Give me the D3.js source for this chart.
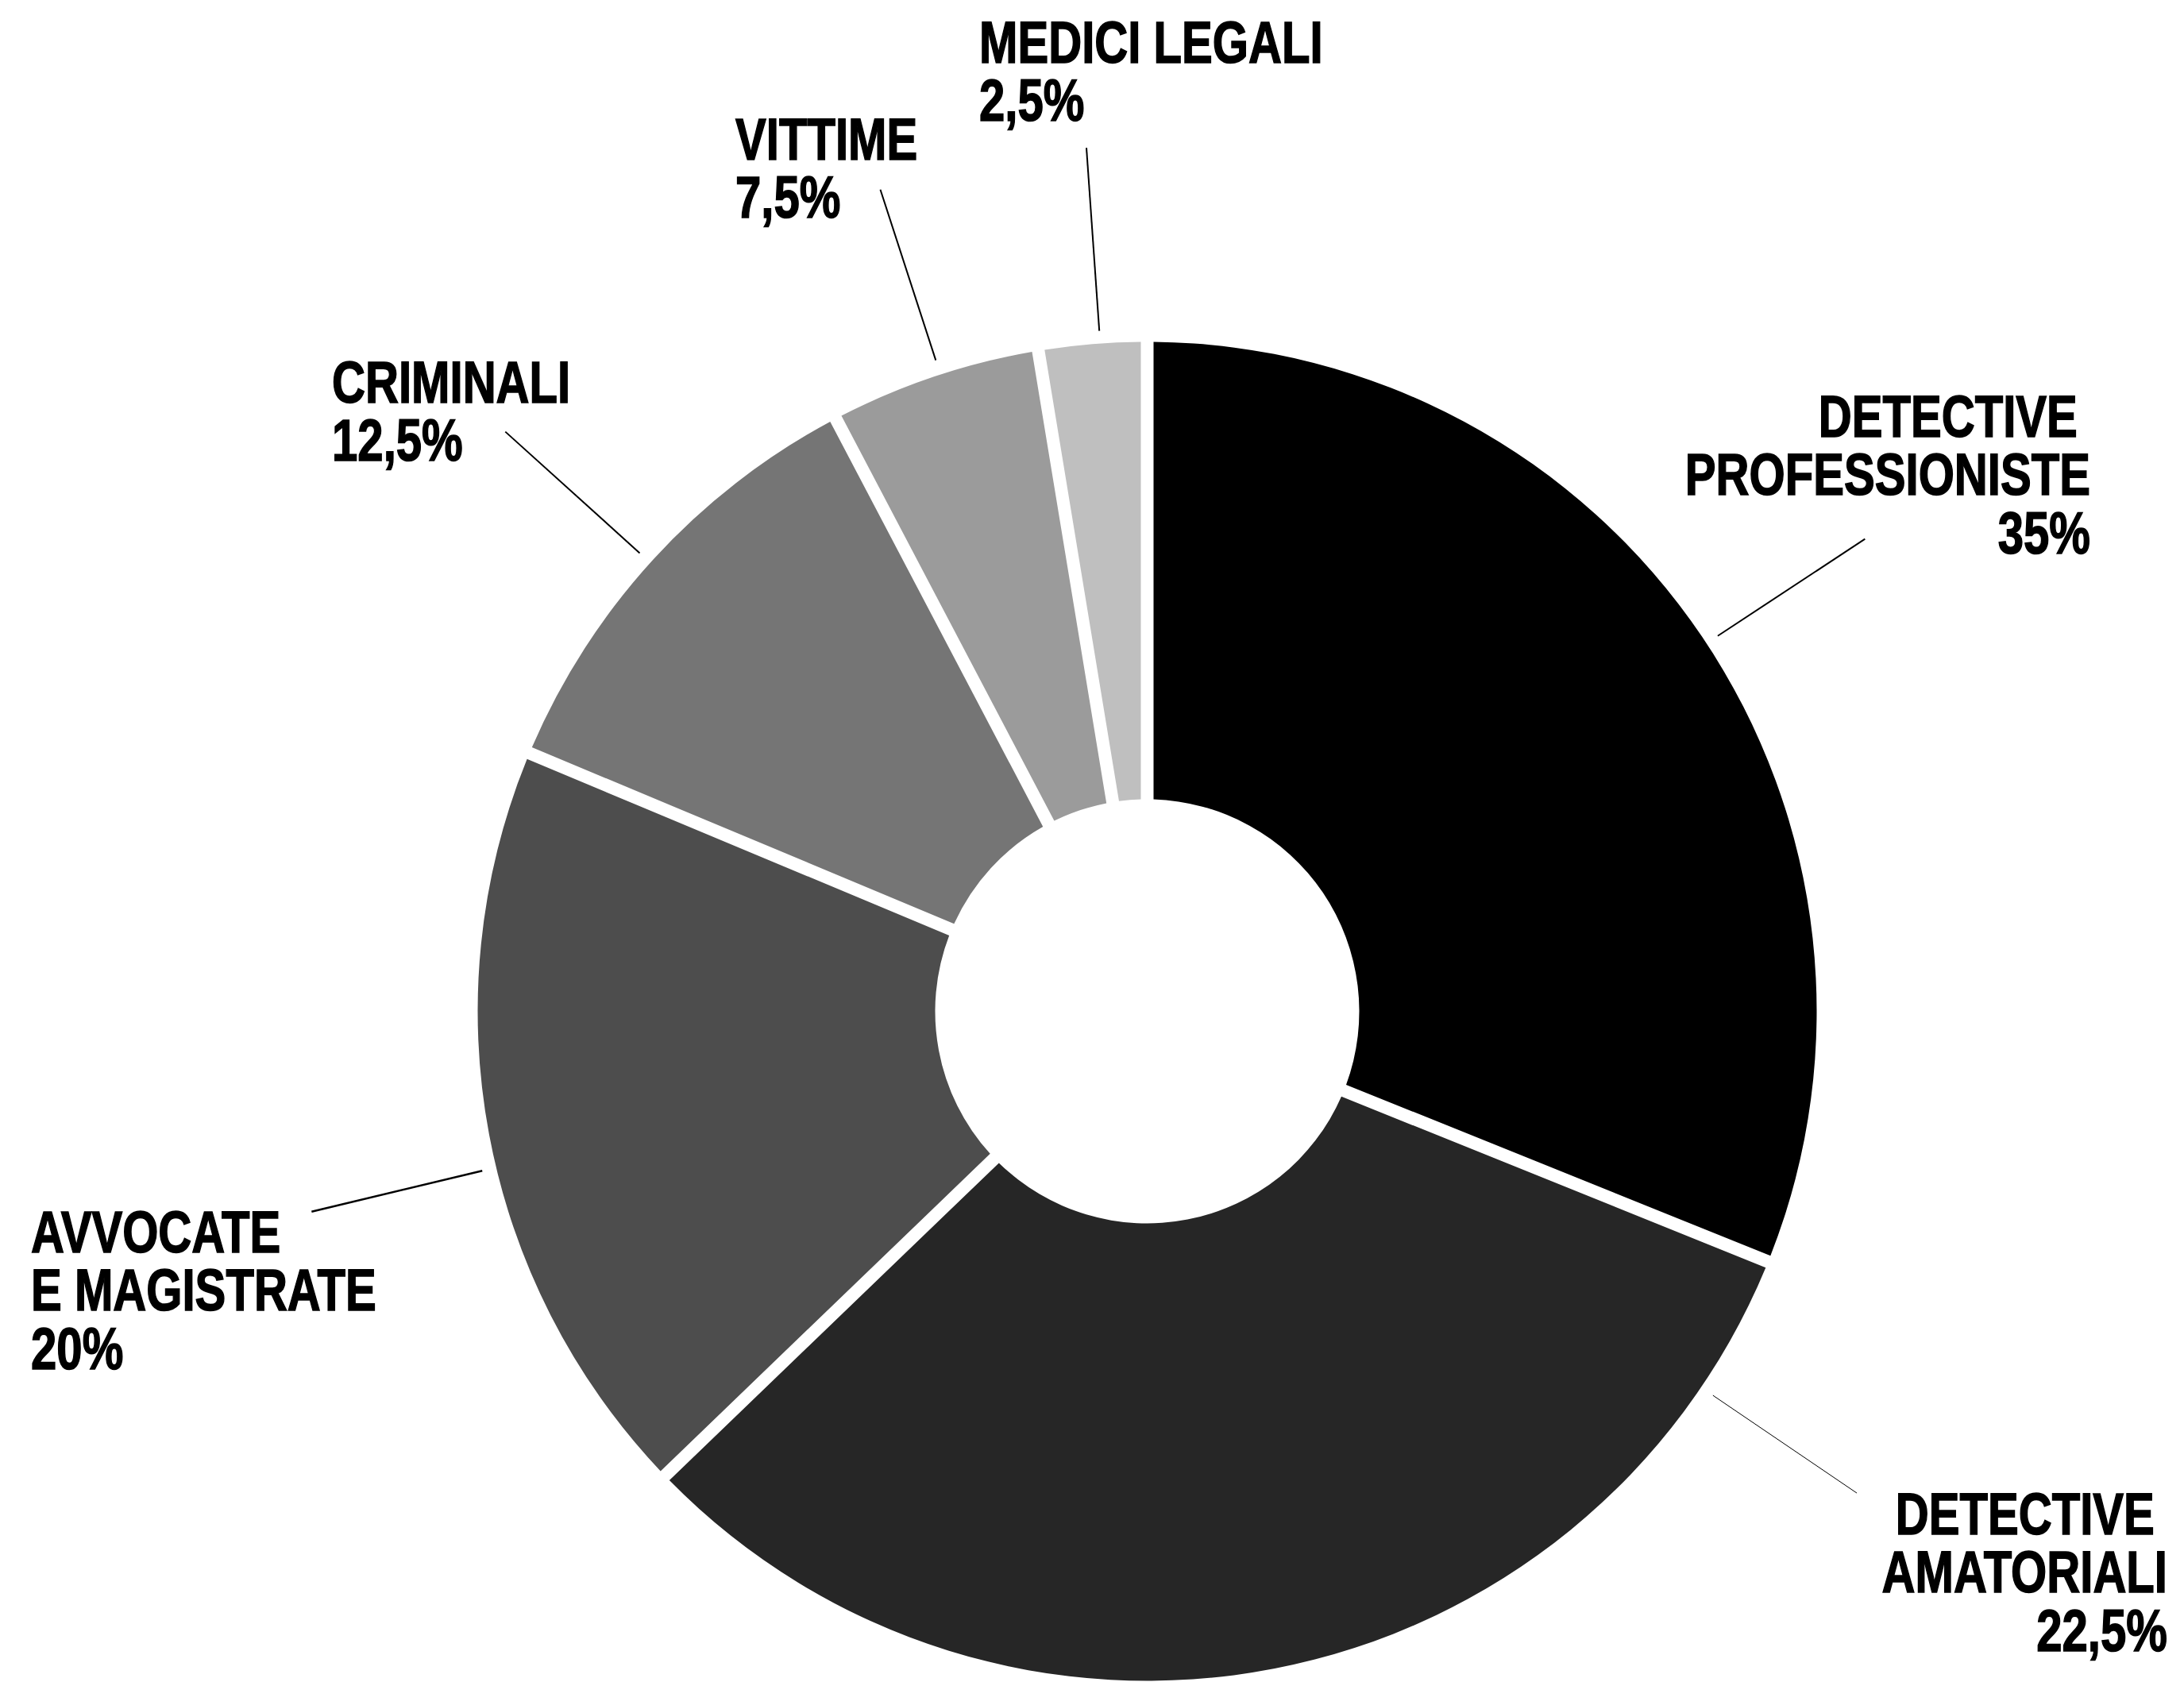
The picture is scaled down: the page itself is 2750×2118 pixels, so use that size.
<!DOCTYPE html>
<html>
<head>
<meta charset="utf-8">
<script src="https://cdn.jsdelivr.net/npm/d3@7"></script>
<style>
  body { margin: 0; background: #fff; }
  svg { display: block; }
  .lbl { font-family: "Liberation Sans", Arial, sans-serif; font-weight: bold; font-size: 75px; fill: #000; stroke: #000; stroke-width: 1.6px; white-space: pre; }
</style>
</head>
<body>
<svg id="chart" width="2750" height="2118"></svg>
<script>
// slice names, split the way they are set on the page
var nameLines = [
  ['DETECTIVE\u00a0', 'PROFESSIONISTE'],
  ['DETECTIVE\u00a0', 'AMATORIALI'],
  ['AVVOCATE', 'E MAGISTRATE'],
  ['CRIMINALI'],
  ['VITTIME'],
  ['MEDICI LEGALI']
];
// the percentages printed next to each slice
var pctLabels = ['35%', '22,5%', '20%', '12,5%', '7,5%', '2,5%'];
// share of the ring each slice actually covers in the drawing
var shares = [31.1, 31.7, 18.5, 11.0, 5.1, 2.6];
var colors = ['#000000', '#262626', '#4d4d4d', '#757575', '#9b9b9b', '#bfbfbf'];

var svg = d3.select('#chart'),
    cx = 1444.5,
    cy = 1273.5,
    outerR = 843,
    innerR = 267,
    gap = 16,
    condense = 0.775,  // no condensed face installed, so squeeze the bold one
    lineStep = 73.5;

// label blocks: x, baseline of the first line, anchor
var labelPos = [
  { x: 2632, y: 550, anchor: 'end' },
  { x: 2729, y: 1932, anchor: 'end' },
  { x: 39, y: 1577, anchor: 'start' },
  { x: 418, y: 507, anchor: 'start' },
  { x: 926, y: 201, anchor: 'start' },
  { x: 1233, y: 79, anchor: 'start' }
];

// leader lines: where along the slice, and from/to which radius
var leaders = [
  { at: 0.506, r0: 860, r1: 1082, w: 2 },
  { at: 0.107, r0: 861, r1: 1080, w: 1 },
  { at: 0.457, r0: 861, r1: 1082, w: 2.5 },
  { at: 0.49, r0: 861, r1: 1089, w: 2 },
  { at: 0.53, r0: 862, r1: 1088, w: 2 },
  { at: 0.57, r0: 859, r1: 1090, w: 2 }
];

var pie = d3.pie()
  .sort(null)
  .value(function (d) { return d; });

var arc = d3.arc()
  .innerRadius(innerR)
  .outerRadius(outerR)
  .padRadius(outerR)
  .padAngle(gap / outerR);

var arcs = pie(shares);

var g = svg.append('g')
  .attr('transform', 'translate(' + cx + ',' + cy + ')');

g.selectAll('path')
  .data(arcs)
  .enter()
  .append('path')
  .attr('d', arc)
  .attr('fill', function (d, i) { return colors[i]; });

g.selectAll('line')
  .data(arcs)
  .enter()
  .append('line')
  .each(function (d, i) {
    var l = leaders[i],
        a = d.startAngle + l.at * (d.endAngle - d.startAngle),
        p0 = d3.pointRadial(a, l.r0),
        p1 = d3.pointRadial(a, l.r1);
    d3.select(this)
      .attr('x1', p0[0]).attr('y1', p0[1])
      .attr('x2', p1[0]).attr('y2', p1[1]);
  })
  .attr('stroke', '#000')
  .attr('stroke-width', function (d, i) { return leaders[i].w; });

var labels = svg.append('g')
  .selectAll('text')
  .data(nameLines)
  .enter()
  .append('text')
  .attr('class', 'lbl')
  .attr('text-anchor', function (d, i) { return labelPos[i].anchor; })
  .attr('transform', function (d, i) {
    return 'translate(' + labelPos[i].x + ',' + labelPos[i].y + ') scale(' + condense + ',1)';
  });

labels.each(function (lines, i) {
  var t = d3.select(this);
  lines.concat([pctLabels[i]]).forEach(function (s, k) {
    t.append('tspan')
      .attr('x', 0)
      .attr('y', k * lineStep)
      .text(s);
  });
});
</script>
</body>
</html>
